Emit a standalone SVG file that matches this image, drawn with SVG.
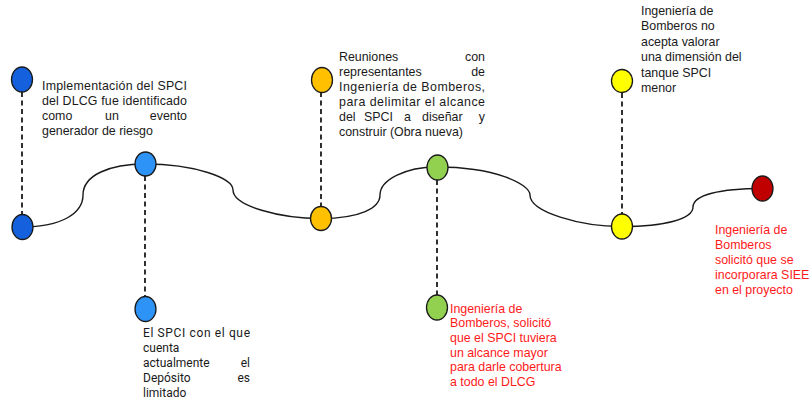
<svg xmlns="http://www.w3.org/2000/svg" width="809" height="400" viewBox="0 0 809 400">
<style>
.t{font-family:"Liberation Sans",Arial,sans-serif;font-size:12.4px;fill:#1a1a1a}
.r{fill:#ff1a1a}
.rb{font-family:Roboto,"Liberation Sans",sans-serif;font-size:12px;fill:#1a1a1a}
.e{text-anchor:end}
.n{stroke:#1a1a1a;stroke-width:1.3}
.curve{fill:none;stroke:#1a1a1a;stroke-width:1.4}
.dash{fill:none;stroke:#1a1a1a;stroke-width:1.8;stroke-dasharray:5 3.5}
</style>
<rect width="809" height="400" fill="#ffffff"/>
<g id="connectors">
<path class="curve" d="M22,227 C62,227 83,213 83,195 C83,175 110,164 145,164"/>
<path class="curve" d="M145,164 C195,164 233,178 233,190 C233,206 280,218.5 321,218.5"/>
<path class="curve" d="M321,218.5 C360,218.5 380,208 380,195 C380,180 405,167 437,167"/>
<path class="curve" d="M437,167 C495,167 530,184 530,195 C530,212 580,226.5 622,226.5"/>
<path class="curve" d="M622,226.5 C665,226.5 693,219 693,207 C693,195 720,188.5 762,188.5"/>
<line class="dash" x1="22" y1="92" x2="22" y2="215"/>
<line class="dash" x1="145" y1="176" x2="145" y2="297"/>
<line class="dash" x1="321" y1="92" x2="321" y2="206"/>
<line class="dash" x1="437" y1="180" x2="437" y2="295"/>
<line class="dash" x1="622" y1="93" x2="622" y2="214"/>
</g>
<g id="node1">
<ellipse class="n" cx="22" cy="79.5" rx="10.5" ry="12.5" fill="#1560dc"/>
<ellipse class="n" cx="22.5" cy="227" rx="10.5" ry="12.5" fill="#1560dc"/>
<text class="t" x="42" y="89.5" textLength="145" lengthAdjust="spacing">Implementación del SPCI</text>
<text class="t" x="42" y="104.5" textLength="145" lengthAdjust="spacing">del DLCG fue identificado</text>
<text class="t" x="42" y="119.5">como</text>
<text class="t" x="105" y="119.5">un</text>
<text class="t e" x="187" y="119.5">evento</text>
<text class="t" x="42" y="134.5">generador de riesgo</text>
</g>
<g id="node2">
<ellipse class="n" cx="145.5" cy="164" rx="10.5" ry="12" fill="#2e93f7"/>
<ellipse class="n" cx="145.5" cy="309" rx="10.5" ry="12.5" fill="#2e93f7"/>
<text class="rb" x="143" y="337" textLength="107" lengthAdjust="spacing">El SPCI con el que</text>
<text class="rb" x="143" y="352">cuenta</text>
<text class="rb" x="143" y="367">actualmente</text>
<text class="rb e" x="250" y="367">el</text>
<text class="rb" x="143" y="382">Depósito</text>
<text class="rb e" x="250" y="382">es</text>
<text class="rb" x="143" y="396.5">limitado</text>
</g>
<g id="node3">
<ellipse class="n" cx="322" cy="80" rx="10.5" ry="12.5" fill="#ffc000"/>
<ellipse class="n" cx="321" cy="218.5" rx="10.5" ry="12" fill="#ffc000"/>
<text class="t" x="339" y="61">Reuniones</text>
<text class="t e" x="485" y="61">con</text>
<text class="t" x="339" y="76">representantes</text>
<text class="t e" x="485" y="76">de</text>
<text class="t" x="339" y="91" textLength="146" lengthAdjust="spacing">Ingeniería de Bomberos,</text>
<text class="t" x="339" y="106" textLength="146" lengthAdjust="spacing">para delimitar el alcance</text>
<text class="t" x="339" y="121">del</text>
<text class="t" x="364" y="121">SPCI</text>
<text class="t" x="404" y="121">a</text>
<text class="t" x="422" y="121">diseñar</text>
<text class="t e" x="485" y="121">y</text>
<text class="t" x="339" y="135.5">construir (Obra nueva)</text>
</g>
<g id="node4">
<ellipse class="n" cx="437.5" cy="167.5" rx="10.5" ry="12.5" fill="#92d050"/>
<ellipse class="n" cx="437" cy="307.5" rx="10.5" ry="12.5" fill="#92d050"/>
<text class="t r" x="450" y="312.5">Ingeniería de</text>
<text class="t r" x="450" y="327">Bomberos, solicitó</text>
<text class="t r" x="450" y="342">que el SPCI tuviera</text>
<text class="t r" x="450" y="356.5">un alcance mayor</text>
<text class="t r" x="450" y="371">para darle cobertura</text>
<text class="t r" x="450" y="385.5">a todo el DLCG</text>
</g>
<g id="node5">
<ellipse class="n" cx="622" cy="81" rx="10.5" ry="11.5" fill="#ffff00"/>
<ellipse class="n" cx="622" cy="226.5" rx="10.5" ry="12.5" fill="#ffff00"/>
<text class="t" x="641" y="14.5">Ingeniería de</text>
<text class="t" x="641" y="30">Bomberos no</text>
<text class="t" x="641" y="45.5">acepta valorar</text>
<text class="t" x="641" y="61">una dimensión del</text>
<text class="t" x="641" y="76.5">tanque SPCI</text>
<text class="t" x="641" y="92">menor</text>
</g>
<g id="node6">
<ellipse class="n" cx="762.5" cy="188.5" rx="10.5" ry="12.5" fill="#c00000"/>
<text class="t r" x="715" y="234">Ingeniería de</text>
<text class="t r" x="715" y="249">Bomberos</text>
<text class="t r" x="715" y="264">solicitó que se</text>
<text class="t r" x="715" y="279">incorporara SIEE</text>
<text class="t r" x="715" y="294">en el proyecto</text>
</g>
</svg>
